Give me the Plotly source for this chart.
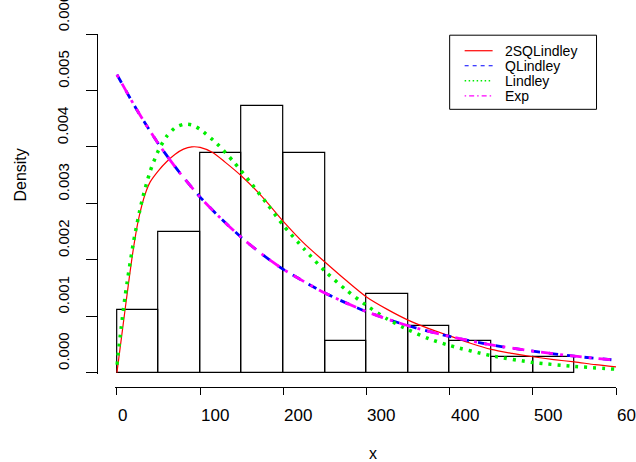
import plotly.graph_objects as go

# ---------------- data ----------------
bin_edges = [0, 50, 100, 150, 200, 250, 300, 350, 400, 450, 500, 550]
bin_counts = [4, 9, 14, 17, 14, 2, 5, 3, 2, 1, 1]

x_2sq = [0, 5, 10, 15, 20, 25, 30, 35, 40, 50, 60, 70, 80, 90, 100, 115, 130, 150, 175, 200,
         225, 250, 275, 300, 325, 350, 375, 400, 425, 450, 475, 500, 525, 550, 575, 600]
y_2sq = [0.0, 0.00057, 0.00114, 0.00170, 0.00222, 0.00265, 0.00297, 0.00321, 0.00338,
         0.00358, 0.00374, 0.00387, 0.00396, 0.00400, 0.00399, 0.00390, 0.00373, 0.00348,
         0.00311, 0.00268, 0.00229, 0.00196, 0.00164, 0.00134, 0.00112, 0.00093, 0.00078,
         0.00065, 0.00052, 0.00041, 0.00034, 0.00028, 0.00023, 0.00019, 0.00014, 0.00010]

x_lind = [0, 5, 10, 20, 30, 40, 50, 60, 70, 80, 90, 100, 120, 140, 160, 180, 200,
          225, 250, 275, 300, 325, 350, 375, 400, 450, 500, 550, 600]
y_lind = [0.00014, 0.00078, 0.00137, 0.00232, 0.00304, 0.00357, 0.00394, 0.00419, 0.00434,
          0.00440, 0.00439, 0.00431, 0.00406, 0.00374, 0.00338, 0.00300, 0.00261, 0.00219,
          0.00180, 0.00147, 0.00119, 0.00095, 0.00076, 0.00060, 0.00048, 0.00030, 0.00018,
          0.00011, 0.00006]

x_exp = [0, 25, 50, 75, 100, 125, 150, 175, 200, 250, 300, 350, 400, 450, 500, 550, 600]
y_exp = [0.00528, 0.00463, 0.00405, 0.00355, 0.00311, 0.00273, 0.00239, 0.00209, 0.00183,
         0.00141, 0.00108, 0.00083, 0.00064, 0.00049, 0.00038, 0.00029, 0.00022]
y_qlind = [0.00528, 0.00463, 0.00405, 0.00355, 0.00311, 0.00273, 0.00239, 0.00209, 0.00183,
           0.00141, 0.00108, 0.00083, 0.00064, 0.00049, 0.00038, 0.00029, 0.00022]

series_names = ["2SQLindley", "QLindley", "Lindley", "Exp"]
series_colors = ["red", "blue", "#00ee00", "magenta"]

x_ticks = [0, 100, 200, 300, 400, 500, 600]
x_tick_labels = ["0", "100", "200", "300", "400", "500", "600"]
y_ticks = [0.000, 0.001, 0.002, 0.003, 0.004, 0.005, 0.006]
y_tick_labels = ["0.000", "0.001", "0.002", "0.003", "0.004", "0.005", "0.006"]

# ---------------- derived histogram (density) ----------------
n_total = sum(bin_counts)
widths = [bin_edges[i + 1] - bin_edges[i] for i in range(len(bin_counts))]
centers = [(bin_edges[i] + bin_edges[i + 1]) / 2 for i in range(len(bin_counts))]
density = [c / (n_total * w) for c, w in zip(bin_counts, widths)]

FONT = "Liberation Sans, Arial, Helvetica, sans-serif"

# pixel geometry
W, H = 636, 462
ML, MR, MT, MB = 97, 19.5, 34.3, 75.3
paper_w = W - ML - MR
paper_h = H - MT - MB
x_dom0 = (115.3 - ML) / paper_w
y_dom0 = (H - MB - 374.0) / paper_h


def px_x(p):
    return (p - ML) / paper_w


def px_y(p):
    return (H - MB - p) / paper_h


fig = go.Figure()

fig.add_trace(go.Bar(
    x=centers, y=density, width=widths,
    marker=dict(color="rgba(255,255,255,0)", line=dict(color="black", width=1.2)),
    showlegend=False, hoverinfo="skip"))

main_styles = [
    dict(width=1.2, dash="solid"),
    dict(width=2.8, dash="9px,9px"),
    dict(width=3.5, dash="3px,6px"),
    dict(width=2.8, dash="3px,7px,12px,7px"),
]
xs = [x_2sq, x_exp, x_lind, x_exp]
ys = [y_2sq, y_qlind, y_lind, y_exp]
for name, col, st, xv, yv in zip(series_names, series_colors, main_styles, xs, ys):
    fig.add_trace(go.Scatter(
        x=xv, y=yv, mode="lines", name=name, showlegend=False,
        line=dict(color=col, width=st["width"], dash=st["dash"],
                  shape="spline", smoothing=0.7)))

# ---------------- legend (box, samples, labels) ----------------
shapes = [dict(type="rect", xref="paper", yref="paper",
               x0=px_x(450), x1=px_x(597), y0=px_y(109.5), y1=px_y(35.5),
               line=dict(color="black", width=1), fillcolor="white", layer="above")]
legend_dash = ["solid", "4px,4px", "1.5px,2.5px", "1.5px,3px,5px,3px"]
legend_width = [1.2, 1.2, 1.6, 1.2]
row_y = [51, 66, 81, 96]
annotations = []
for name, col, dsh, lw, ry in zip(series_names, series_colors, legend_dash, legend_width, row_y):
    shapes.append(dict(type="line", xref="paper", yref="paper",
                       x0=px_x(465), x1=px_x(493), y0=px_y(ry), y1=px_y(ry),
                       line=dict(color=col, width=lw, dash=dsh), layer="above"))
    annotations.append(dict(
        x=px_x(503), xref="paper", y=px_y(ry), yref="paper", text=name, showarrow=False,
        xanchor="left", yanchor="middle",
        font=dict(family=FONT, size=14, color="black")))

for v, t in zip(x_ticks, x_tick_labels):
    annotations.append(dict(
        x=v, xref="x", y=px_y(415), yref="paper", text=t, showarrow=False,
        xanchor="left", yanchor="middle", xshift=-1,
        font=dict(family=FONT, size=17, color="black")))
for v, t in zip(y_ticks, y_tick_labels):
    annotations.append(dict(
        x=px_x(63.3), xref="paper", y=v, yref="y", text=t, showarrow=False,
        textangle=-90, xanchor="center", yanchor="bottom", yshift=1,
        font=dict(family=FONT, size=15, color="black")))
annotations.append(dict(
    x=px_x(367), xref="paper", y=px_y(453), yref="paper", text="x", showarrow=False,
    xanchor="left", yanchor="middle", font=dict(family=FONT, size=16, color="black")))
annotations.append(dict(
    x=px_x(20), xref="paper", y=px_y(204), yref="paper", text="Density", showarrow=False,
    textangle=-90, xanchor="center", yanchor="bottom",
    font=dict(family=FONT, size=16, color="black")))

fig.update_layout(
    width=W, height=H,
    margin=dict(l=ML, r=MR, t=MT, b=MB, pad=0),
    paper_bgcolor="white", plot_bgcolor="white",
    bargap=0, showlegend=False,
    font=dict(family=FONT, size=14, color="black"),
    xaxis=dict(range=[-2, 600], domain=[x_dom0, 1], anchor="free", position=0,
               showline=True, linecolor="black", linewidth=1,
               tickmode="array", tickvals=x_ticks, ticks="outside", ticklen=7,
               tickcolor="black", tickwidth=1, showticklabels=False,
               showgrid=False, zeroline=False),
    yaxis=dict(range=[-0.00003, 0.006], domain=[y_dom0, 1], anchor="free", position=0,
               showline=True, linecolor="black", linewidth=1,
               tickmode="array", tickvals=y_ticks, ticks="outside", ticklen=11,
               tickcolor="black", tickwidth=1, showticklabels=False,
               showgrid=False, zeroline=False),
    shapes=shapes,
    annotations=annotations,
)

fig.write_html("out.html")
